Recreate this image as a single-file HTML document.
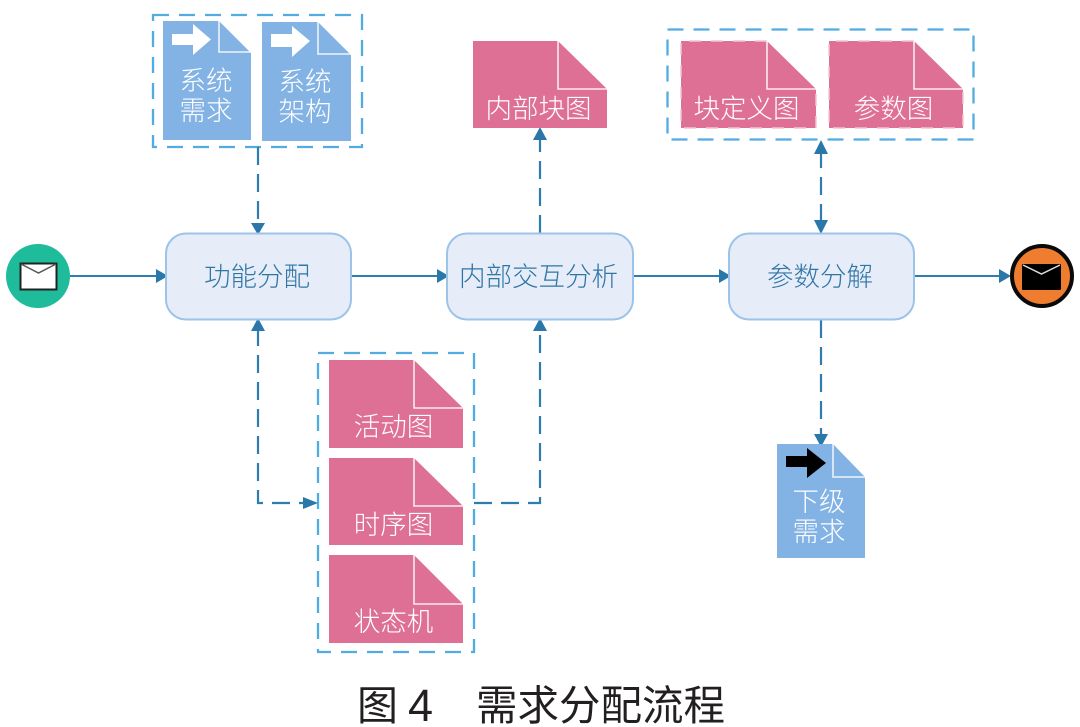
<!DOCTYPE html>
<html>
<head>
<meta charset="utf-8">
<style>
html,body{margin:0;padding:0;background:#fff;width:1080px;height:727px;overflow:hidden}
svg{display:block}
text{font-family:"Liberation Sans","Noto Sans CJK SC",sans-serif}
.w{fill:#fff;font-size:26.500px;text-anchor:middle;font-weight:300}
.t{fill:#2f75a5;font-size:26.500px;text-anchor:middle;font-weight:300}
.g{fill:none;stroke:#52ace2;stroke-width:2.300;stroke-dasharray:16 10}
.c{fill:none;stroke:#2f7cae;stroke-width:2}
.d{fill:none;stroke:#2f7cae;stroke-width:2.200;stroke-dasharray:18 9}
.a{fill:#2a78aa}
.task{fill:#e6edf8;stroke:#9cc3e8;stroke-width:2}
.f{fill:none;stroke:#fff;stroke-width:1.600;opacity:.85}
.p{fill:#dd7094}
.b{fill:#83b2e4}
.e{fill:none;stroke:#f3c3d3;stroke-width:1.500;stroke-dasharray:12 10}
</style>
</head>
<body>
<svg width="1080" height="727" viewBox="0 0 1080 727" xmlns="http://www.w3.org/2000/svg">
<g filter="none">
<!-- group boxes -->
<rect class="g" x="153" y="15" width="209" height="132"/>
<rect class="g" x="667.500" y="29.500" width="306" height="110"/>
<rect class="g" x="318" y="353" width="156" height="299"/>

<!-- connectors -->
<path class="c" d="M70 276H160"/><path class="a" d="M168 276l-12-7v14z"/>
<path class="c" d="M351 276H441"/><path class="a" d="M449 276l-12-7v14z"/>
<path class="c" d="M633 276H723"/><path class="a" d="M731 276l-12-7v14z"/>
<path class="c" d="M914 276H1002"/><path class="a" d="M1011 276l-12-7v14z"/>

<path class="d" d="M258 147V226"/><path class="a" d="M258 235l-7-12h14z"/>
<path class="d" d="M540 233V136"/><path class="a" d="M540 127l-7 13h14z"/>
<path class="d" d="M821 150V224"/><path class="a" d="M821 140l-7 14h14z"/><path class="a" d="M821 234l-7-14h14z"/>
<path class="d" d="M258 328V503H306"/><path class="a" d="M258 318l-7 13h14z"/><path class="a" d="M318 503l-15-6v12z"/>
<path class="d" d="M474 503H540V328"/><path class="a" d="M540 318l-7 13h14z"/>
<path class="d" d="M821 320V438"/><path class="a" d="M821 447l-7-13h14z"/>

<!-- tasks -->
<rect class="task" x="166" y="233.500" width="185" height="86" rx="20"/>
<rect class="task" x="447" y="233.500" width="186" height="86" rx="20"/>
<rect class="task" x="729" y="233.500" width="185" height="86" rx="20"/>
<text class="t" x="257" y="286">功能分配</text>
<text class="t" x="538.500" y="286">内部交互分析</text>
<text class="t" x="820" y="286">参数分解</text>

<!-- start event -->
<circle cx="38" cy="276" r="32" fill="#1fbc9c"/>
<rect x="20.500" y="263.500" width="36" height="26" fill="#fff" stroke="#222" stroke-width="2"/>
<path d="M21 264l17.500 9L56 264" fill="none" stroke="#555" stroke-width="1.500"/>

<!-- end event -->
<circle cx="1042" cy="276" r="30" fill="#ee7d30" stroke="#0a0a0a" stroke-width="4"/>
<rect x="1022" y="264" width="39" height="26" rx="1" fill="#000"/>
<path d="M1023 265l18.500 9L1060 265" fill="none" stroke="#ddd" stroke-width="1.500"/>

<!-- blue docs -->
<path class="b" d="M163 21H219L251 53V140H163z"/>
<path class="f" d="M219 21V52H251"/>
<path fill="#fff" d="M172 34H193V24L211 39.500 193 55V45H172z"/>
<text class="w" x="206" y="90">系统</text>
<text class="w" x="206" y="120">需求</text>

<path class="b" d="M262 22H318L351 55V141H262z"/>
<path class="f" d="M318 22V54H351"/>
<path fill="#fff" d="M271 34H292V26L310 41 292 57V47H271z"/>
<text class="w" x="305" y="91">系统</text>
<text class="w" x="305" y="121">架构</text>

<path class="b" d="M777 444H833L865 477V558H777z"/>
<path class="f" d="M833 444V477H865"/>
<path fill="#000" d="M786 456H807V448L826 463 807 478V467H786z"/>
<text class="w" x="819" y="511">下级</text>
<text class="w" x="819" y="541">需求</text>

<!-- pink docs -->
<path class="p" d="M473 41H558L607 89V128H473z"/>
<path class="f" d="M558 41V89H607"/>
<text class="w" x="538.500" y="118">内部块图</text>

<path class="p" d="M681 41H767L816 89V128H681z"/>
<path class="e" d="M767 41H681V128H816V89"/>
<path class="f" d="M767 41V89H816"/>
<text class="w" x="746.500" y="118">块定义图</text>

<path class="p" d="M829 41H914L963 89V128H829z"/>
<path class="e" d="M914 41H829V128H963V89"/>
<path class="f" d="M914 41V89H963"/>
<text class="w" x="893.500" y="118">参数图</text>

<path class="p" d="M329 360H414L463 408V448H329z"/>
<path class="f" d="M414 360V408H463"/>
<text class="w" x="393.500" y="436">活动图</text>

<path class="p" d="M329 458H414L463 506V545H329z"/>
<path class="f" d="M414 458V506H463"/>
<text class="w" x="393.500" y="534">时序图</text>

<path class="p" d="M329 555H414L463 604V643H329z"/>
<path class="f" d="M414 555V604H463"/>
<text class="w" x="393.500" y="631">状态机</text>

<!-- caption -->
<text x="357" y="720" fill="#231f20" font-size="41">图</text>
<text x="408" y="721" fill="#231f20" font-size="45">4</text>
<text x="476" y="720" fill="#231f20" font-size="41.500">需求分配流程</text>
</g>
</svg>
</body>
</html>
